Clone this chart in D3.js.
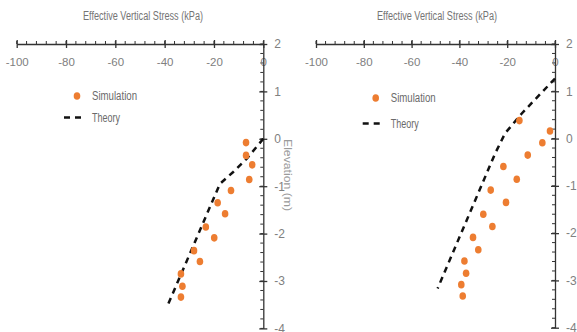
<!DOCTYPE html>
<html>
<head>
<meta charset="utf-8">
<script src="https://cdn.jsdelivr.net/npm/d3@7"></script>
<style>
  body { margin: 0; background: #fff; }
  svg { display: block; }
  text { font-family: "Liberation Sans", Arial, sans-serif; }
</style>
</head>
<body>
<div id="canvas"></div>
<script>
// data
var xTicks = [-100, -80, -60, -40, -20, 0];
var yTicks = [-4, -3, -2, -1, 0, 1, 2];

// left panel
var simLeftX = [-7.0, -7.0, -4.5, -5.7, -13.1, -18.5, -15.5, -23.3, -19.9, -28.1, -25.7, -33.4, -32.8, -33.4];
var simLeftY = [-0.08, -0.35, -0.55, -0.86, -1.09, -1.35, -1.58, -1.86, -2.09, -2.36, -2.59, -2.85, -3.11, -3.34];
var theoryLeftX = [0, -6.7, -12.2, -17.6, -38.5];
var theoryLeftY = [0, -0.42, -0.70, -0.95, -3.48];

// right panel
var simRightX = [-14.9, -2.1, -5.3, -11.4, -21.6, -16.0, -26.9, -20.5, -30.0, -26.2, -34.3, -32.1, -37.9, -37.2, -39.2, -38.6];
var simRightY = [0.38, 0.16, -0.09, -0.35, -0.59, -0.86, -1.09, -1.35, -1.60, -1.86, -2.09, -2.35, -2.59, -2.85, -3.09, -3.33];
var theoryRightX = [0, -13.9, -20.9, -25.1, -49.1];
var theoryRightY = [1.27, 0.53, 0.11, -0.32, -3.17];

var W = 577, H = 332;
var svg = d3.select("#canvas").append("svg").attr("width", W).attr("height", H);

function zip(xs, ys) {
  return xs.map(function(v, i) { return [v, ys[i]]; });
}

// plain hyphen minus like the original
var fmt = function(d) { return String(d); };

function drawPanel(p) {
  var x = d3.scaleLinear().domain([-100, 0]).range([p.x0, p.x1]);
  var y = d3.scaleLinear().domain([-4, 2]).range([p.yBottom, p.yTop]);
  var g = svg.append("g");

  // title
  g.append("text")
    .attr("x", p.titleX).attr("y", 20)
    .attr("text-anchor", "middle")
    .attr("font-size", 12)
    .attr("fill", "#747474")
    .attr("textLength", 120).attr("lengthAdjust", "spacingAndGlyphs")
    .text("Effective Vertical Stress (kPa)");

  // minor ticks
  g.selectAll(".xminor").data(d3.range(-100, 0.1, 4)).join("line")
    .attr("x1", function(d) { return x(d); }).attr("x2", function(d) { return x(d); })
    .attr("y1", y(2)).attr("y2", y(2) - 3)
    .attr("stroke", "#333").attr("stroke-width", 1);
  g.selectAll(".yminor").data(d3.range(-4, 2.01, 0.2)).join("line")
    .attr("x1", x(0) - 3).attr("x2", x(0))
    .attr("y1", function(d) { return y(d); }).attr("y2", function(d) { return y(d); })
    .attr("stroke", "#333").attr("stroke-width", 1);

  // x axis (top)
  var gx = g.append("g")
    .attr("transform", "translate(0," + y(2) + ")")
    .call(d3.axisBottom(x).tickValues(xTicks).tickFormat(fmt).tickSize(4).tickSizeOuter(0).tickPadding(10));
  gx.selectAll(".tick line").attr("y1", -4).attr("stroke", "#333").attr("stroke-width", 1.3);
  gx.select(".domain").attr("stroke", "#333").attr("stroke-width", 1.3);
  gx.selectAll("text").attr("fill", "#808080").attr("font-size", 11.5)
    .style("font-family", "'Liberation Sans', Arial, sans-serif");

  // y axis (right)
  var gy = g.append("g")
    .attr("transform", "translate(" + x(0) + ",0)")
    .call(d3.axisRight(y).tickValues(yTicks).tickFormat(fmt).tickSize(4).tickSizeOuter(0).tickPadding(7));
  gy.selectAll(".tick line").attr("x1", -4).attr("stroke", "#333").attr("stroke-width", 1.3);
  gy.select(".domain").attr("stroke", "#333").attr("stroke-width", 1.3);
  gy.selectAll("text").attr("fill", "#808080").attr("font-size", 12)
    .style("font-family", "'Liberation Sans', Arial, sans-serif");

  // y axis title (the right panel's one falls outside the picture)
  if (p.showYTitle) {
    g.append("text")
      .attr("transform", "translate(" + (x(0) + 21) + "," + p.yTitleY + ") rotate(90)")
      .attr("text-anchor", "middle")
      .attr("font-size", 11)
      .attr("fill", "#9a9a9a")
      .attr("textLength", 72).attr("lengthAdjust", "spacingAndGlyphs")
      .text("Elevation (m)");
  }

  // theory line
  var line = d3.line().x(function(d) { return x(d[0]); }).y(function(d) { return y(d[1]); });
  g.append("path")
    .datum(zip(p.thX, p.thY))
    .attr("d", line)
    .attr("fill", "none")
    .attr("stroke", "#111")
    .attr("stroke-width", 2.5)
    .attr("stroke-dasharray", "6,5");

  // simulation points
  g.selectAll(".sim").data(zip(p.simX, p.simY)).join("ellipse")
    .attr("cx", function(d) { return x(d[0]); })
    .attr("cy", function(d) { return y(d[1]); })
    .attr("rx", 3.3).attr("ry", 3.8)
    .attr("fill", "#ed7d31");

  // legend
  var lg = g.append("g").attr("transform", "translate(" + p.legX + "," + p.legY + ")");
  lg.append("ellipse").attr("cx", 0).attr("cy", 0).attr("rx", 3.3).attr("ry", 3.8).attr("fill", "#ed7d31");
  lg.append("text").attr("x", 15).attr("y", 4).attr("font-size", 12).attr("fill", "#6a6a6a")
    .attr("textLength", 45).attr("lengthAdjust", "spacingAndGlyphs").text("Simulation");
  lg.append("line")
    .attr("x1", -13).attr("x2", 8)
    .attr("y1", p.legGap).attr("y2", p.legGap)
    .attr("stroke", "#111").attr("stroke-width", 2.5).attr("stroke-dasharray", "6,5");
  lg.append("text").attr("x", 15).attr("y", p.legGap + 4).attr("font-size", 12).attr("fill", "#6a6a6a")
    .attr("textLength", 28).attr("lengthAdjust", "spacingAndGlyphs").text("Theory");
}

drawPanel({
  x0: 16.7, x1: 263.3, yTop: 44, yBottom: 328.4,
  titleX: 143, yTitleY: 175, showYTitle: true,
  legX: 77, legY: 96, legGap: 21.5,
  simX: simLeftX, simY: simLeftY, thX: theoryLeftX, thY: theoryLeftY
});

drawPanel({
  x0: 316, x1: 555, yTop: 44, yBottom: 327.7,
  titleX: 437, yTitleY: 175, showYTitle: false,
  legX: 375.7, legY: 98, legGap: 25.5,
  simX: simRightX, simY: simRightY, thX: theoryRightX, thY: theoryRightY
});
</script>
</body>
</html>
